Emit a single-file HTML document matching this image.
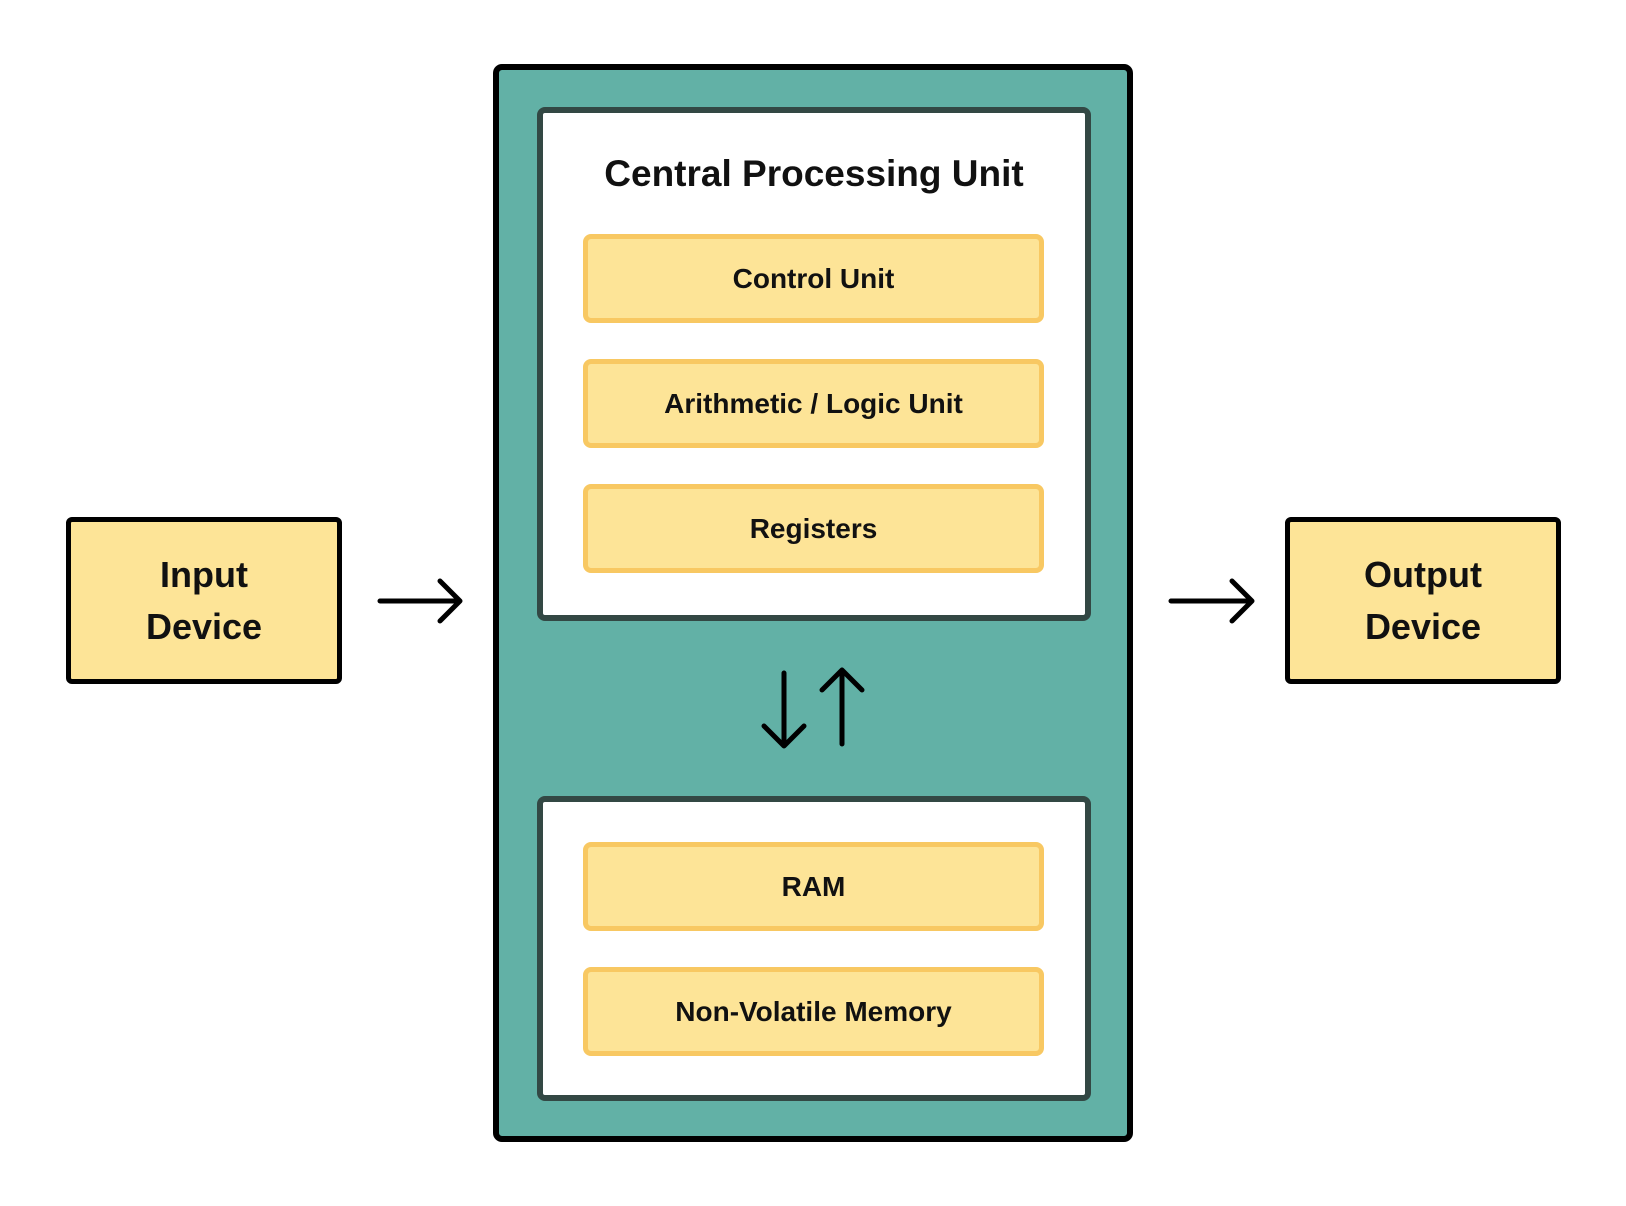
<!DOCTYPE html>
<html><head><style>
body{margin:0;width:1626px;height:1206px;background:#fff;position:relative;overflow:hidden;font-family:"Liberation Sans",sans-serif;}
div{position:absolute;box-sizing:border-box;}
.outer{left:493px;top:64px;width:640px;height:1078px;background:#62b1a6;border:6px solid #000;border-radius:9px;}
.inner{left:537px;background:#fff;border:6px solid #334844;border-radius:8px;width:554px;}
.y{left:583px;width:461px;height:89px;background:#fde497;border:5px solid #f8c862;border-radius:8px;display:flex;align-items:center;justify-content:center;font-weight:bold;font-size:28px;color:#111;}
.dev{top:517px;width:276px;height:167px;background:#fde497;border:5px solid #000;border-radius:6px;display:flex;align-items:center;justify-content:center;text-align:center;font-weight:bold;font-size:36px;line-height:52px;color:#111;}
.title{left:537px;width:554px;top:153px;text-align:center;font-weight:bold;font-size:37px;color:#111;}
</style></head><body>
<div class="outer"></div>
<div class="inner" style="top:107px;height:514px;"></div>
<div class="inner" style="top:796px;height:305px;"></div>
<div class="title">Central Processing Unit</div>
<div class="y" style="top:234px;">Control Unit</div>
<div class="y" style="top:359px;">Arithmetic / Logic Unit</div>
<div class="y" style="top:484px;">Registers</div>
<div class="y" style="top:842px;">RAM</div>
<div class="y" style="top:967px;">Non-Volatile Memory</div>
<div class="dev" style="left:66px;">Input<br>Device</div>
<div class="dev" style="left:1285px;">Output<br>Device</div>
<svg width="1626" height="1206" style="position:absolute;left:0;top:0" fill="none" stroke="#000" stroke-width="5" stroke-linecap="round" stroke-linejoin="round">
<path d="M380 601H460M440 581L460 601L440 621"/>
<path d="M1171 601H1252M1232 581L1252 601L1232 621"/>
<path d="M784 673V746M764 726L784 746L804 726"/>
<path d="M842 744V670M822 690L842 670L862 690"/>
</svg>
</body></html>
